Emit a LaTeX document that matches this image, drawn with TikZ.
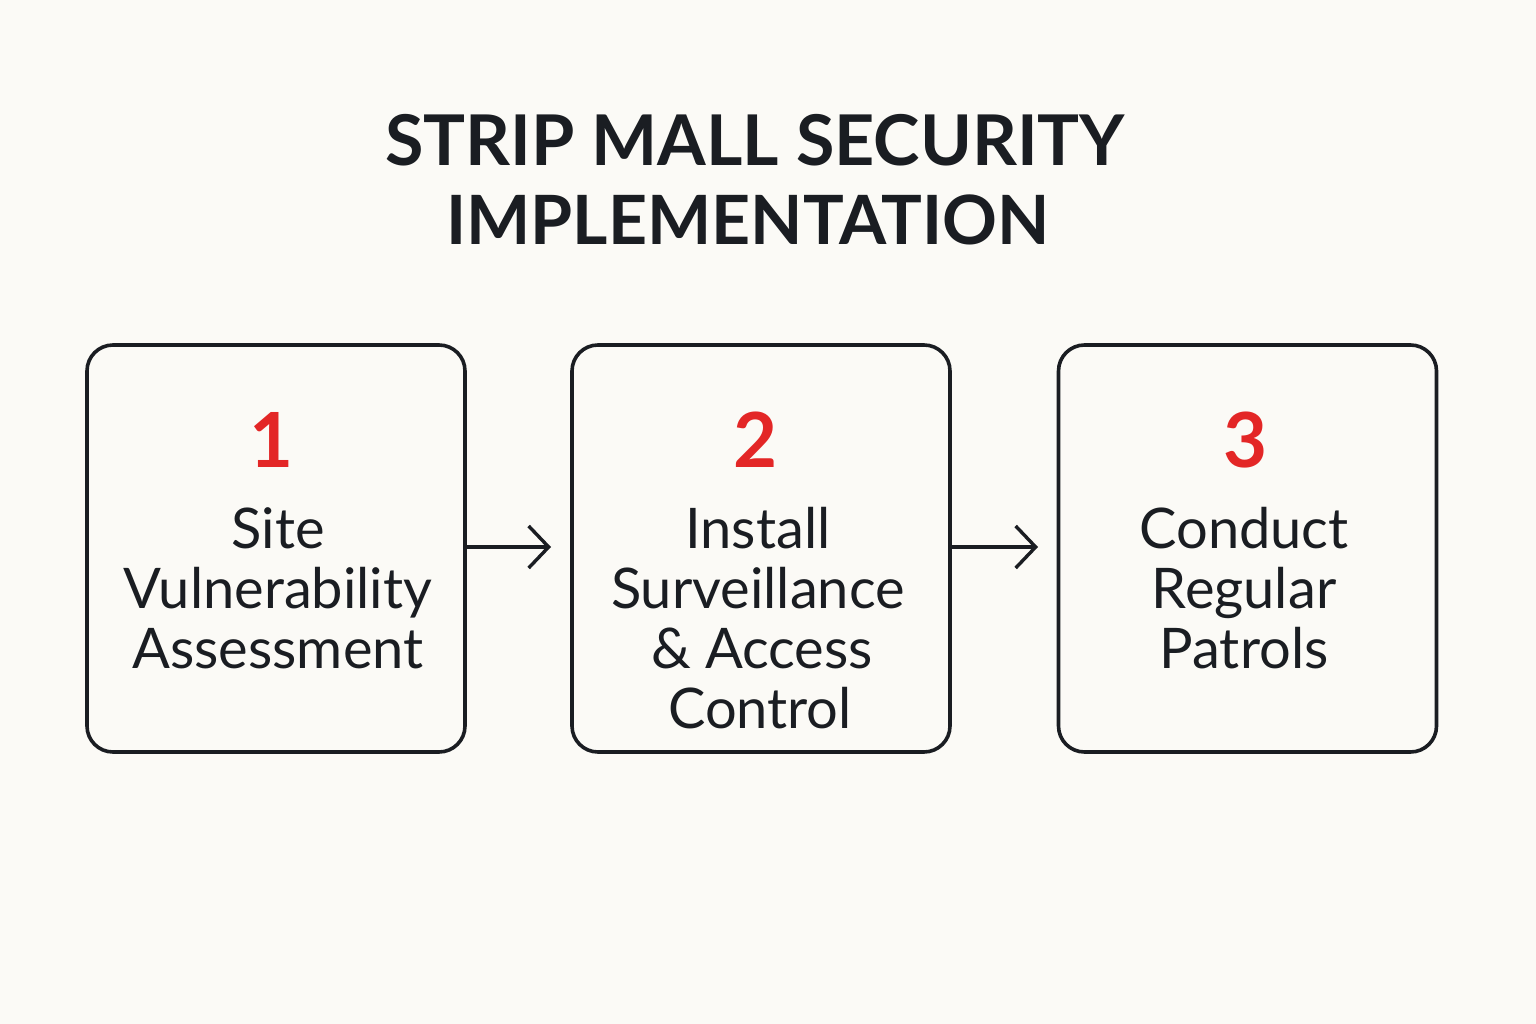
\documentclass[tikz,border=0pt]{standalone}
\usepackage{fontspec}
\setmainfont{Lato}
\usetikzlibrary{arrows.meta}
\definecolor{bg}{HTML}{FBFAF6}
\definecolor{ink}{HTML}{1A1D22}
\definecolor{accent}{HTML}{E32626}
\tikzset{
  stepbox/.style={draw=ink, line width=3.6pt, rounded corners=26pt, minimum width=378pt, minimum height=407pt, inner sep=0pt},
  stepnum/.style={text=accent, font=\fontsize{76}{76}\selectfont\bfseries, inner sep=0pt, anchor=base},
  steptext/.style={text=ink, font=\fontsize{56}{60}\selectfont, align=center, inner sep=0pt, anchor=base},
  flow/.style={draw=ink, line width=3.4pt, -{Straight Barb[length=20pt, width=42pt, line width=3.4pt]}},
  titletext/.style={text=ink, font=\fontsize{70}{78}\selectfont\bfseries, align=center, inner sep=0pt, anchor=base}
}
\begin{document}
\begin{tikzpicture}[x=1pt,y=-1pt]
\fill[bg] (0,0) rectangle (1536,1024);
\useasboundingbox (0,0) rectangle (1536,1024);
\node[titletext] (t1) at (755,166) {STRIP MALL SECURITY};
\node[titletext, font=\fontsize{68}{78}\selectfont\bfseries] (t2) at (748,245) {IMPLEMENTATION};
\node[stepbox] (b1) at (276,548.5) {};
\node[stepbox] (b2) at (761,548.5) {};
\node[stepbox] (b3) at (1247.5,548.5) {};
\node[stepnum] (n1) at (272,467) {1};
\node[stepnum] (n2) at (756,467) {2};
\node[stepnum] (n3) at (1246,467) {3};
\node[steptext] (s1a) at (278,548) {Site};
\node[steptext] (s1b) at (278,608) {Vulnerability};
\node[steptext] (s1c) at (278,668) {Assessment};
\node[steptext] (s2a) at (758,548) {Install};
\node[steptext] (s2b) at (758,608) {Surveillance};
\node[steptext] (s2c) at (762,668) {\& Access};
\node[steptext] (s2d) at (760,728) {Control};
\node[steptext] (s3a) at (1244,548) {Conduct};
\node[steptext] (s3b) at (1244,608) {Regular};
\node[steptext] (s3c) at (1244,668) {Patrols};
\coordinate (a1) at (551,547);
\coordinate (a2) at (1038,547);
\draw[flow] (b1.east |- a1) -- (a1);
\draw[flow] (b2.east |- a2) -- (a2);
\end{tikzpicture}
\end{document}
